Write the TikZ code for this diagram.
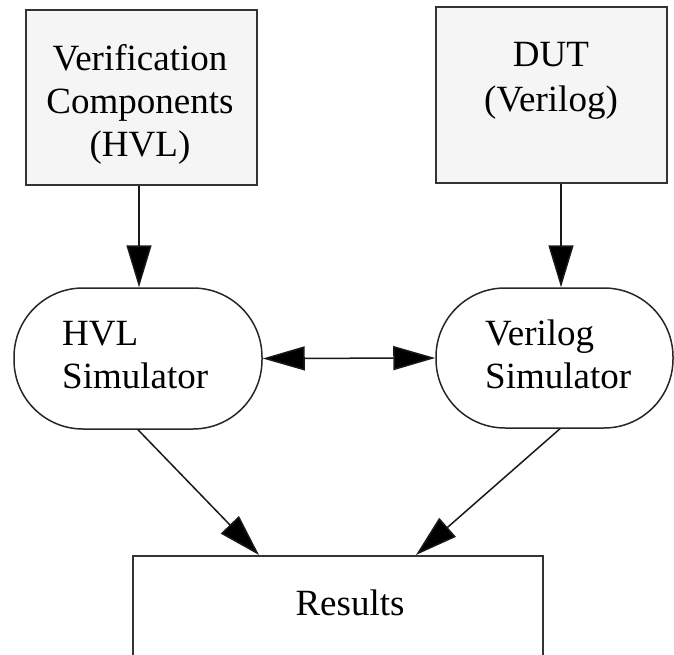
\documentclass[tikz,border=0pt]{standalone}
\usepackage{fontspec}
\setmainfont{Liberation Serif}
\usetikzlibrary{arrows.meta,calc}
\begin{document}
\begin{tikzpicture}[x=1pt,y=-1pt,
  comp/.style={draw=black!80,line width=2pt,fill=black!4,inner sep=0pt},
  sim/.style={draw=black!85,line width=1.5pt,rounded corners=69pt,inner sep=0pt},
  resbox/.style={draw=black!80,line width=2pt,inner sep=0pt},
  lbl/.style={font=\fontsize{37}{43}\selectfont,inner sep=0pt,text=black},
  conn/.style={draw=black!90,line width=1.5pt,-{Triangle[length=42pt,width=25pt,fill=black]}},
  dconn/.style={draw=black!90,line width=1.5pt,{Triangle[length=42pt,width=24pt,fill=black]}-{Triangle[length=42pt,width=24pt,fill=black]}}]
\useasboundingbox (0,0) rectangle (674,655);
\clip (0,0) rectangle (674,655);
% shapes
\node[comp,minimum width=231pt,minimum height=175pt] (b1) at (141.5,97.5) {};
\node[comp,minimum width=231pt,minimum height=176pt] (b2) at (551.5,95) {};
\node[sim,minimum width=248pt,minimum height=141pt] (hvl) at (138,358.5) {};
\node[sim,minimum width=237pt,minimum height=140pt] (vsim) at (554.5,358) {};
\node[resbox,minimum width=410pt,minimum height=140pt] (res) at (338,626) {};
% texts
\node[lbl,align=center,anchor=base] (t1) at (140,71) {Verification};
\node[lbl,align=center,anchor=base] (t1b) at (140,114) {Components};
\node[lbl,align=center,anchor=base] (t1c) at (140,157) {(HVL)};
\node[lbl,anchor=base] (t2) at (551,67) {DUT};
\node[lbl,anchor=base] (t2b) at (551,112) {(Verilog)};
\node[lbl,anchor=base west] (t3) at (62,345) {HVL};
\node[lbl,anchor=base west] (t3b) at (62,388) {Simulator};
\node[lbl,anchor=base west] (t4) at (485,345) {Verilog};
\node[lbl,anchor=base west] (t4b) at (485,388) {Simulator};
\node[lbl,anchor=base] (t5) at (350,615) {Results};
% connector end points
\coordinate (a1s) at ($(b1.south)+(-2.5,0)$);
\coordinate (a1e) at ($(hvl.north)+(1,0)$);
\coordinate (a2s) at ($(b2.south)+(9.5,0)$);
\coordinate (a2e) at ($(vsim.north)+(6.5,0)$);
\coordinate (d1e) at ($(res.north west)+(127,0)$);
\coordinate (d2s) at ($(vsim.south)+(5.5,0)$);
\coordinate (d2e) at ($(res.north west)+(284,0)$);
% connectors
\draw[conn] (a1s) -- (a1e);
\draw[conn] (a2s) -- (a2e);
\draw[dconn] (hvl.east) -- (vsim.west);
\draw[conn] (hvl.south) -- (d1e);
\draw[conn] (d2s) -- (d2e);
\end{tikzpicture}
\end{document}
